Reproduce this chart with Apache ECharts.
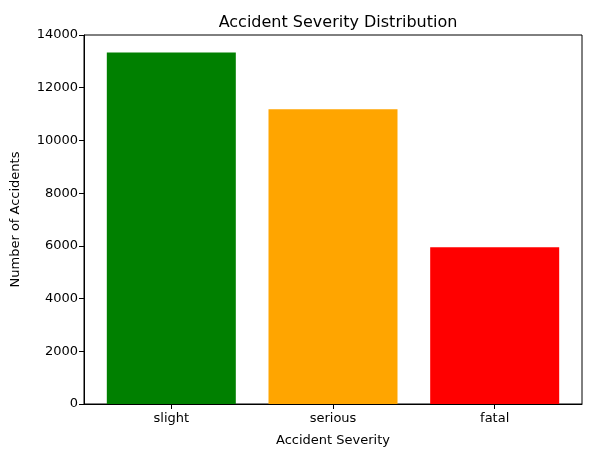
<!DOCTYPE html>
<html>
<head>
<meta charset="utf-8">
<script src="https://cdn.jsdelivr.net/npm/echarts@6/dist/echarts.min.js"></script>
<style>
  html, body { margin: 0; padding: 0; background: #fff; }
  #chart { width: 613px; height: 453px; }
</style>
</head>
<body>
<div id="chart"></div>
<script>
var categories = ['slight', 'serious', 'fatal'];
var counts = [13340, 11180, 5950];
var barColors = ['#008000', '#ffa500', '#ff0000'];
var yTicks = [0, 2000, 4000, 6000, 8000, 10000, 12000, 14000];

var dom = document.getElementById('chart');
var chart = echarts.init(dom);
var font = 'DejaVu Sans';

var option = {
    animation: false,
    backgroundColor: '#fff',
    title: {
        text: 'Accident Severity Distribution',
        left: 333, top: 10, textAlign: 'center',
        textStyle: { fontFamily: font, fontSize: 16, fontWeight: 'normal', color: '#000' }
    },
    grid: {
        left: 84, right: 31, top: 35, bottom: 49,
        show: true, borderColor: '#000', borderWidth: 1, backgroundColor: 'transparent'
    },
    xAxis: {
        type: 'value',
        min: -0.54, max: 2.54,
        name: 'Accident Severity',
        nameLocation: 'middle', nameGap: 30,
        nameTextStyle: { fontFamily: font, fontSize: 13, color: '#000' },
        splitLine: { show: false },
        axisLine: { show: true, onZero: false, lineStyle: { color: '#000' } },
        axisTick: { show: true, length: 5, customValues: [0, 1, 2], lineStyle: { color: '#000' } },
        axisLabel: {
            customValues: [0, 1, 2],
            fontFamily: font, fontSize: 13, color: '#000', margin: 8,
            formatter: function (v) { return categories[Math.round(v)]; }
        }
    },
    yAxis: {
        type: 'value',
        min: 0, max: 14000, interval: 2000,
        name: 'Number of Accidents',
        nameLocation: 'middle', nameGap: 62,
        nameTextStyle: { fontFamily: font, fontSize: 13, color: '#000' },
        splitLine: { show: false },
        axisLine: { show: true, onZero: false, lineStyle: { color: '#000' } },
        axisTick: { show: true, length: 5, customValues: yTicks, lineStyle: { color: '#000' } },
        axisLabel: {
            customValues: yTicks,
            fontFamily: font, fontSize: 13, color: '#000', margin: 6,
            formatter: function (v) { return String(v); }
        }
    },
    series: [{
        type: 'bar',
        barWidth: 129,
        data: counts.map(function (v, i) {
            return { value: [i, v], itemStyle: { color: barColors[i] } };
        })
    }]
};

chart.setOption(option);
window.onresize = chart.resize;
</script>
</body>
</html>
